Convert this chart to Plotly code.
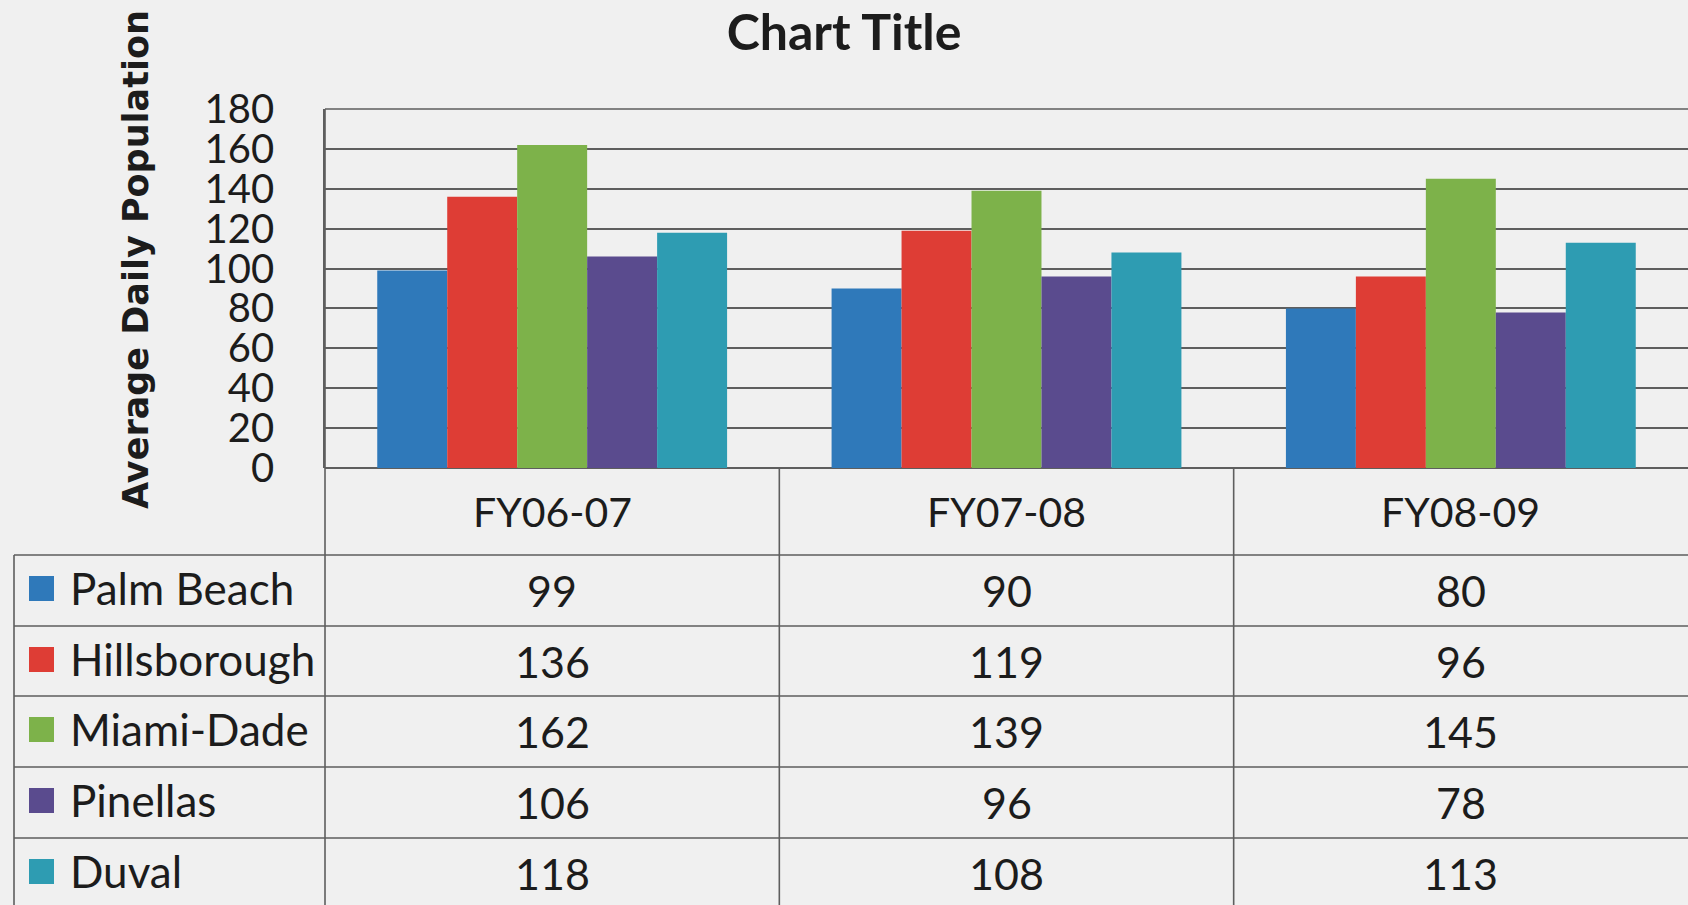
import plotly.graph_objects as go

# ---------------- data ----------------
categories = ["FY06-07", "FY07-08", "FY08-09"]
counties = ["Palm Beach", "Hillsborough", "Miami-Dade", "Pinellas", "Duval"]
palm_beach = [99, 90, 80]
hillsborough = [136, 119, 96]
miami_dade = [162, 139, 145]
pinellas = [106, 96, 78]
duval = [118, 108, 113]
y_ticks = [0, 20, 40, 60, 80, 100, 120, 140, 160, 180]

series = [palm_beach, hillsborough, miami_dade, pinellas, duval]
colors = ["#2F79BA", "#DE3D35", "#7DB24A", "#5A4B8E", "#2E9CB2"]

# ---------------- layout geometry (pixels) ----------------
W, H = 1688, 905
L, T, B = 325, 109, 468
GRID = "#5e5e5e"
TXT = "#1c1c1c"
BG = "#f0f0f0"
FONT = "Lato"


def px(x):
    return (x - L) / (W - L)


def py(y):
    return (B - y) / (B - T)


fig = go.Figure()
for name, vals, col in zip(counties, series, colors):
    fig.add_trace(go.Bar(x=categories, y=vals, name=name,
                         marker=dict(color=col, line=dict(width=0))))

row_tops = [555, 626, 696, 767, 838]
row_h = 71
header_c = 511

annotations = []
shapes = []

# header labels
for c in categories:
    annotations.append(dict(x=c, xref="x", y=py(header_c), yref="paper",
                            text=c, showarrow=False, xanchor="center", yanchor="middle",
                            font=dict(family=FONT, size=41, color=TXT)))

# table rows
for i, (name, vals, col) in enumerate(zip(counties, series, colors)):
    c = row_tops[i] + row_h / 2
    annotations.append(dict(x=px(68), xref="paper", y=py(c - 3), yref="paper",
                            text=name, showarrow=False, xanchor="left", yanchor="middle",
                            font=dict(family=FONT, size=44, color=TXT)))
    shapes.append(dict(type="rect", xref="paper", yref="paper",
                       x0=px(29), x1=px(54), y0=py(c - 2 + 12.5), y1=py(c - 2 - 12.5),
                       fillcolor=col, line=dict(width=0)))
    for cat, v in zip(categories, vals):
        annotations.append(dict(x=cat, xref="x", y=py(c), yref="paper",
                                text=str(v), showarrow=False, xanchor="center", yanchor="middle",
                                font=dict(family=FONT, size=43, color=TXT)))

# table grid lines
for yt in row_tops:
    shapes.append(dict(type="line", xref="paper", yref="paper",
                       x0=px(14), x1=px(W), y0=py(yt), y1=py(yt),
                       line=dict(color=GRID, width=1.6)))
shapes.append(dict(type="line", xref="paper", yref="paper",
                   x0=px(14), x1=px(14), y0=py(row_tops[0]), y1=py(H + 5),
                   line=dict(color=GRID, width=1.6)))
shapes.append(dict(type="line", xref="paper", yref="paper",
                   x0=0, x1=0, y0=1, y1=py(H + 5),
                   line=dict(color=GRID, width=1.6)))
for k in range(1, len(categories)):
    shapes.append(dict(type="line", xref="x", yref="paper",
                       x0=k - 0.5, x1=k - 0.5, y0=0, y1=py(H + 5),
                       line=dict(color=GRID, width=1.6)))
shapes.append(dict(type="line", xref="paper", yref="paper",
                   x0=0, x1=1, y0=1, y1=1, line=dict(color=GRID, width=1.6)))

# y-axis title
annotations.append(dict(x=px(136), xref="paper", y=py(259), yref="paper",
                        text="<b>Average Daily Population</b>", textangle=-90,
                        showarrow=False, xanchor="center", yanchor="middle",
                        font=dict(family="DejaVu Sans", size=35, color=TXT)))

fig.update_layout(
    width=W, height=H, autosize=False,
    margin=dict(l=L, r=0, t=T, b=H - B, pad=0),
    paper_bgcolor=BG, plot_bgcolor=BG,
    showlegend=False,
    barmode="group", bargap=0.23, bargroupgap=0,
    title=dict(text="<b>Chart Title</b>", x=0.5, xref="container", xanchor="center",
               y=1 - 32 / H, yref="container", yanchor="middle",
               font=dict(family=FONT, size=50, color=TXT)),
    xaxis=dict(range=[-0.5, 2.5], showticklabels=False, showgrid=False,
               showline=False, zeroline=False, ticks=""),
    yaxis=dict(range=[0, 180], tickvals=y_ticks, ticktext=[str(v) for v in y_ticks],
               showgrid=True, gridcolor=GRID, gridwidth=1.6,
               showline=True, linecolor=GRID, linewidth=1.6,
               zeroline=True, zerolinecolor=GRID, zerolinewidth=1.6,
               ticks="outside", ticklen=41, tickcolor="rgba(0,0,0,0)",
               tickfont=dict(family=FONT, size=40, color=TXT)),
    annotations=annotations,
    shapes=shapes,
)

fig.write_html("out.html", config={"displayModeBar": False},
               post_script="document.body.style.margin='0';document.body.style.overflow='hidden';")
